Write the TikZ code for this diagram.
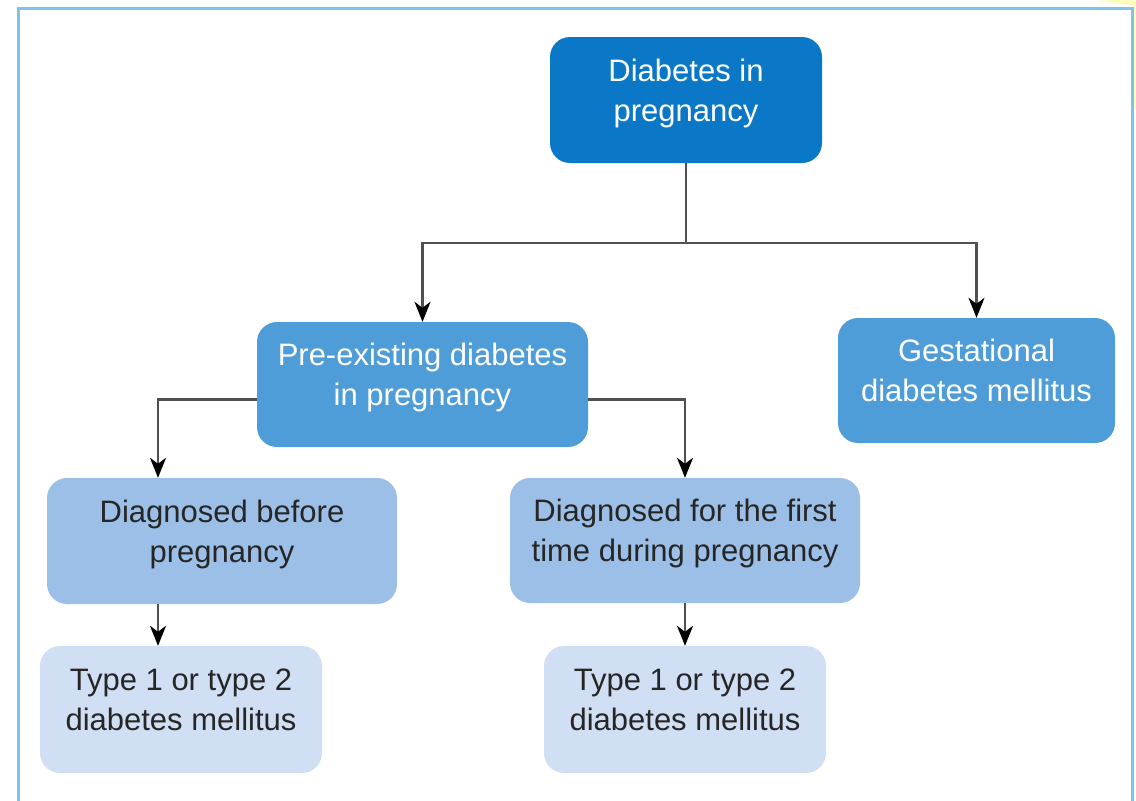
\documentclass[tikz,border=0pt]{standalone}
\usepackage{fontspec}
\setmainfont{Liberation Sans}
\usetikzlibrary{arrows.meta}

\definecolor{bluedark}{HTML}{0A78C6}
\definecolor{bluemid}{HTML}{4F9DD8}
\definecolor{bluelight}{HTML}{9CBFE7}
\definecolor{bluepale}{HTML}{D1DFF4}
\definecolor{framecol}{HTML}{7DC3EC}
\definecolor{linkcol}{HTML}{505050}

\begin{document}
\begin{tikzpicture}[x=1pt,y=-1pt,
    box/.style={rectangle,rounded corners=20pt,align=center,
      font=\fontsize{31}{40}\selectfont,text depth=20pt,inner sep=0pt},
    link/.style={draw=linkcol,line width=2.3pt},
    arr/.style={link,-{Stealth[length=20pt,width=16pt,inset=6pt,color=black]}}]
  \useasboundingbox (0,0) rectangle (1136,801);
  % marco
  \fill[yellow!25] (1096,0) -- (1136,0) -- (1136,110) -- (1133,110) -- (1133,6) -- cycle;
  \draw[framecol,line width=3pt] (18,815) -- (18,8) -- (1132,8) -- (1132,815);
  % cajas
  \node[box,fill=bluedark,text=white,minimum width=272pt,minimum height=126pt]
    (top) at (686,100) {Diabetes in\\pregnancy};
  \node[box,fill=bluemid,text=white,minimum width=331pt,minimum height=125pt]
    (pre) at (422.5,384.5) {Pre-existing diabetes\\in pregnancy};
  \node[box,fill=bluemid,text=white,minimum width=277pt,minimum height=125pt]
    (gest) at (976.5,380.5) {Gestational\\diabetes mellitus};
  \node[box,fill=bluelight,text=black!85,minimum width=350pt,minimum height=126pt]
    (before) at (222,541) {Diagnosed before\\pregnancy};
  \node[box,fill=bluelight,text=black!85,minimum width=350pt,minimum height=125pt]
    (first) at (685,540.5) {Diagnosed for the first\\time during pregnancy};
  \node[box,fill=bluepale,text=black!85,minimum width=282pt,minimum height=127pt]
    (typea) at (181,709.5) {Type 1 or type 2\\diabetes mellitus};
  \node[box,fill=bluepale,text=black!85,minimum width=282pt,minimum height=127pt]
    (typeb) at (685,709.5) {Type 1 or type 2\\diabetes mellitus};
  % conexiones
  \coordinate (split) at (686,243);
  \draw[link] (top.south) -- (split);
  \draw[arr] (split) -| (pre.north);
  \draw[arr] (split) -| (gest.north);
  \draw[arr] ([yshift=-15pt]pre.west) -| ([xshift=-64pt]before.north);
  \draw[arr] ([yshift=-15pt]pre.east) -| (first.north);
  \draw[arr] ([xshift=-64pt]before.south) -- ([xshift=-64pt]before.south |- typea.north);
  \draw[arr] (first.south) -- (typeb.north);
\end{tikzpicture}
\end{document}
